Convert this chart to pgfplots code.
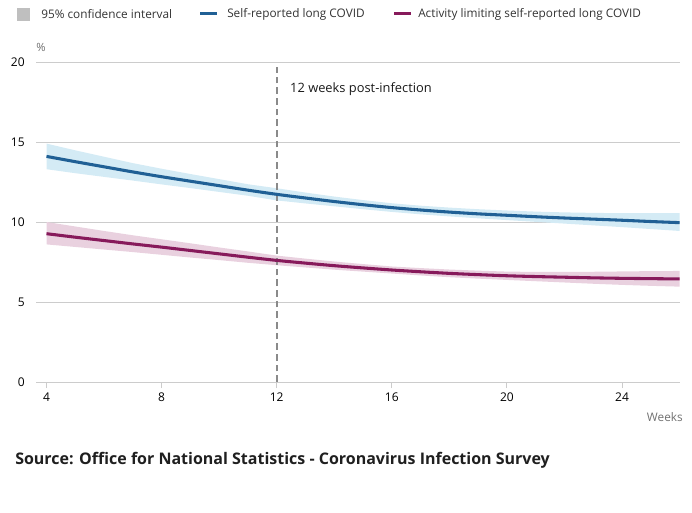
\documentclass[border=0pt]{standalone}
\usepackage{pgfplots}
\pgfplotsset{compat=1.18}
\usepackage{pgfplotstable}
\usepgfplotslibrary{fillbetween}
\usepackage{fontspec}
\setmainfont{Open Sans}

\definecolor{onsblue}{HTML}{206095}
\definecolor{onsblueci}{HTML}{D4EBF5}
\definecolor{onspurple}{HTML}{871A5B}
\definecolor{onspurpleci}{HTML}{E9D1DF}
\definecolor{gridgrey}{HTML}{CCCCCC}
\definecolor{dashgrey}{HTML}{999999}
\definecolor{textgrey}{HTML}{333333}
\definecolor{labelgrey}{HTML}{707070}

% Self-reported long COVID: estimate with 95% interval, by weeks since infection
\pgfplotstableread{
x  y      lo     hi
4  14.10  13.30  14.90
5  13.77  13.05  14.48
6  13.45  12.82  14.08
7  13.13  12.59  13.68
8  12.83  12.35  13.33
9  12.55  12.12  13.00
10 12.27  11.88  12.68
11 11.99  11.64  12.36
12 11.73  11.35  12.11
13 11.50  11.16  11.84
14 11.28  10.98  11.59
15 11.08  10.80  11.37
16 10.90  10.63  11.17
17 10.75  10.48  11.02
18 10.62  10.35  10.90
19 10.51  10.23  10.80
20 10.42  10.12  10.72
21 10.33  10.01  10.65
22 10.25   9.90  10.60
23 10.18   9.79  10.57
24 10.11   9.68  10.55
25 10.03   9.56  10.55
26  9.96   9.44  10.55
}\selfreported

% Activity limiting self-reported long COVID
\pgfplotstableread{
x  y     lo    hi
4  9.27  8.60  10.00
5  9.05  8.44   9.72
6  8.84  8.28   9.44
7  8.63  8.12   9.17
8  8.43  7.95   8.92
9  8.22  7.78   8.67
10 8.01  7.62   8.41
11 7.80  7.45   8.16
12 7.60  7.30   7.90
13 7.43  7.16   7.71
14 7.27  7.02   7.53
15 7.13  6.90   7.37
16 7.00  6.78   7.22
17 6.89  6.66   7.12
18 6.79  6.55   7.03
19 6.71  6.46   6.96
20 6.64  6.38   6.90
21 6.59  6.30   6.88
22 6.55  6.22   6.88
23 6.51  6.14   6.89
24 6.48  6.07   6.91
25 6.46  6.01   6.93
26 6.44  5.96   6.94
}\activitylimiting

\begin{document}
\begin{tikzpicture}
% page frame
\path (0,0) rectangle (519pt,384pt);

% legend
\fill[black!25] (12.75pt,368.25pt) rectangle (22.5pt,378pt);
\node[anchor=west, inner sep=0pt, text=textgrey, font=\fontsize{8.85}{10}\selectfont] at (30.75pt,373.5pt) {95\% confidence interval};
\draw[onsblue, line width=2.25pt] (150pt,373.8pt) -- (162.75pt,373.8pt);
\node[anchor=west, inner sep=0pt, text=textgrey, font=\fontsize{8.85}{10}\selectfont] at (170.25pt,373.5pt) {Self-reported long COVID};
\draw[onspurple, line width=2.25pt] (295.5pt,373.8pt) -- (308.25pt,373.8pt);
\node[anchor=west, inner sep=0pt, text=textgrey, font=\fontsize{8.85}{10}\selectfont] at (313.5pt,373.5pt) {Activity limiting self-reported long COVID};

\begin{axis}[
  at={(27pt,97.5pt)}, anchor=south west,
  scale only axis, width=483pt, height=240pt,
  xmin=3.635, xmax=26.015, ymin=0, ymax=20,
  xtick={4,8,12,16,20,24}, ytick={0,5,10,15,20},
  axis x line*=bottom, axis y line*=left,
  x axis line style={draw=gridgrey, line width=0.75pt},
  y axis line style={draw=none},
  ymajorgrids, grid style={draw=gridgrey, line width=0.75pt},
  xtick style={draw=gridgrey, line width=0.75pt},
  ytick style={draw=none},
  tick align=outside, major tick length=4.5pt,
  /pgf/number format/assume math mode=true,
  ticklabel style={font=\fontsize{9}{10}\selectfont, text=black},
  yticklabel style={xshift=-0.5pt},
  clip=false,
]
  % confidence bands
  \addplot[name path=bhi, draw=none, forget plot] table[x=x, y=hi] {\selfreported};
  \addplot[name path=blo, draw=none, forget plot] table[x=x, y=lo] {\selfreported};
  \addplot[onsblueci, forget plot] fill between[of=bhi and blo];
  \addplot[name path=phi, draw=none, forget plot] table[x=x, y=hi] {\activitylimiting};
  \addplot[name path=plo, draw=none, forget plot] table[x=x, y=lo] {\activitylimiting};
  \addplot[onspurpleci, forget plot] fill between[of=phi and plo];

  % 12 weeks reference line
  \addplot[dashgrey!90!black, line width=1.5pt, dash pattern=on 5pt off 3pt] coordinates {(12,0) (12,19.7)};

  % central estimates
  \addplot[onsblue, line width=2.3pt, smooth] table[x=x, y=y] {\selfreported};
  \addplot[onspurple, line width=2.3pt, smooth] table[x=x, y=y] {\activitylimiting};

  \node[anchor=west, inner sep=0pt, text=black!90, font=\fontsize{9.65}{11}\selectfont] at (axis cs:12.46,18.31) {12 weeks post-infection};
  \node[inner sep=0pt, text=labelgrey, font=\fontsize{8.5}{9}\selectfont] at (axis cs:3.81,20.94) {\%};
\end{axis}

\node[anchor=east, inner sep=0pt, text=labelgrey, font=\fontsize{8.85}{10}\selectfont] at (512.25pt,71.25pt) {Weeks};
\node[anchor=west, inner sep=0pt, text=black!88, font=\bfseries\fontsize{12}{14}\selectfont] at (11.25pt,39pt) {Source: Office for National Statistics - Coronavirus Infection Survey};
\end{tikzpicture}
\end{document}
